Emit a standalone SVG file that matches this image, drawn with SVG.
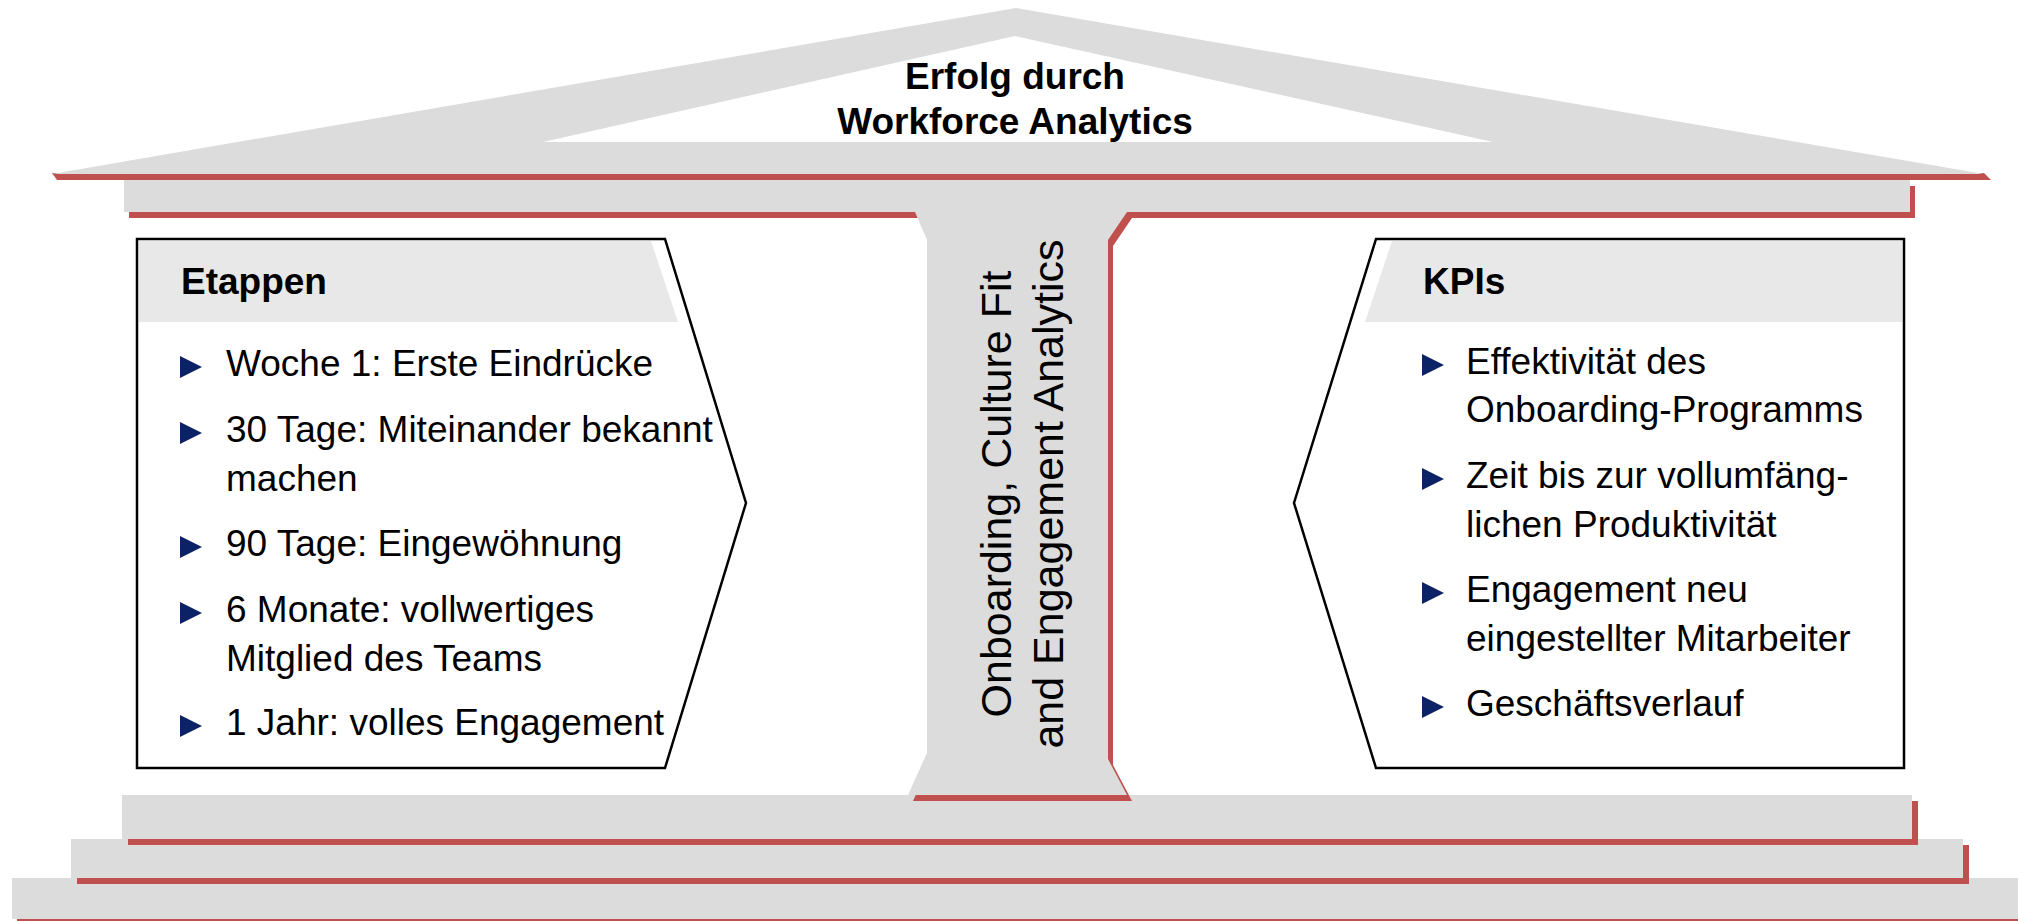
<svg xmlns="http://www.w3.org/2000/svg" width="2018" height="921" viewBox="0 0 2018 921">
  <defs>
    <style>
      .stone { fill: #dcdcdc; }
      .shade { fill: #c0504d; }
      .panel { fill: #ffffff; stroke: #000000; stroke-width: 2.5; stroke-linejoin: miter; }
      .head { fill: #e8e8e8; }
      .bullet { fill: #0c2266; }
      .t { font-family: "Liberation Sans", Arial, sans-serif; fill: #000000; }
      .body { font-size: 37px; }
      .bold { font-size: 37px; font-weight: bold; }
      .pillar-text { font-size: 43px; }
    </style>
    <polygon id="tri" points="0,-20 22,-9 0,2"/>
  </defs>

  <!-- Foundation steps, drawn from the bottom up -->
  <g id="steps">
    <rect class="shade" x="17" y="884" width="2010" height="41"/>
    <rect class="stone" x="12" y="878" width="2016" height="41"/>
    <rect class="shade" x="77" y="845" width="1892" height="39"/>
    <rect class="stone" x="71" y="839" width="1892" height="39"/>
    <rect class="shade" x="128" y="801" width="1790" height="44"/>
    <rect class="stone" x="122" y="795" width="1790" height="44"/>
  </g>

  <!-- Roof -->
  <g id="roof">
    <polygon class="shade" points="52,173 1984,173 1991,180 57,180"/>
    <path class="stone" fill-rule="evenodd" d="M1016,8 L1984,174 L52,174 Z M1015,36 L543,142 L1493,142 Z"/>
    <text class="t bold" x="1015" y="89" text-anchor="middle">Erfolg durch</text>
    <text class="t bold" x="1015" y="134" text-anchor="middle">Workforce Analytics</text>
  </g>

  <!-- Beam under the roof -->
  <g id="beam">
    <rect class="shade" x="129" y="186" width="1786" height="32"/>
    <rect class="stone" x="124" y="180" width="1786" height="32"/>
  </g>

  <!-- Central pillar -->
  <g id="pillar">
    <path class="shade" transform="translate(5,6)" d="M915,212 L1127,212 L1108,240 L1108,759 L1127,795 L908,795 L927,753 L927,240 Z"/>
    <path class="stone" d="M915,212 L1127,212 L1108,240 L1108,759 L1127,795 L908,795 L927,753 L927,240 Z"/>
    <text class="t pillar-text" transform="translate(1011,494) rotate(-90)" text-anchor="middle">Onboarding, Culture Fit</text>
    <text class="t pillar-text" transform="translate(1063,494) rotate(-90)" text-anchor="middle">and Engagement Analytics</text>
  </g>

  <!-- Left panel: stages -->
  <g id="etappen">
    <polygon class="panel" points="137,239 665,239 746,503 665,768 137,768"/>
    <polygon class="head" points="139,241 651,241 678,322 139,322"/>
    <text class="t bold" x="181" y="294">Etappen</text>
    <use href="#tri" class="bullet" x="180" y="376"/>
    <text class="t body" x="226" y="376">Woche 1: Erste Eindrücke</text>
    <use href="#tri" class="bullet" x="180" y="442"/>
    <text class="t body" x="226" y="442">30 Tage: Miteinander bekannt</text>
    <text class="t body" x="226" y="491">machen</text>
    <use href="#tri" class="bullet" x="180" y="556"/>
    <text class="t body" x="226" y="556">90 Tage: Eingewöhnung</text>
    <use href="#tri" class="bullet" x="180" y="622"/>
    <text class="t body" x="226" y="622">6 Monate: vollwertiges</text>
    <text class="t body" x="226" y="671">Mitglied des Teams</text>
    <use href="#tri" class="bullet" x="180" y="735"/>
    <text class="t body" x="226" y="735">1 Jahr: volles Engagement</text>
  </g>

  <!-- Right panel: KPIs -->
  <g id="kpis">
    <polygon class="panel" points="1376,239 1904,239 1904,768 1376,768 1294,503"/>
    <polygon class="head" points="1392,241 1902,241 1902,322 1365,322"/>
    <text class="t bold" x="1423" y="294">KPIs</text>
    <use href="#tri" class="bullet" x="1422" y="374"/>
    <text class="t body" x="1466" y="374">Effektivität des</text>
    <text class="t body" x="1466" y="422">Onboarding-Programms</text>
    <use href="#tri" class="bullet" x="1422" y="488"/>
    <text class="t body" x="1466" y="488">Zeit bis zur vollumfäng-</text>
    <text class="t body" x="1466" y="537">lichen Produktivität</text>
    <use href="#tri" class="bullet" x="1422" y="602"/>
    <text class="t body" x="1466" y="602">Engagement neu</text>
    <text class="t body" x="1466" y="651">eingestellter Mitarbeiter</text>
    <use href="#tri" class="bullet" x="1422" y="716"/>
    <text class="t body" x="1466" y="716">Geschäftsverlauf</text>
  </g>
</svg>
